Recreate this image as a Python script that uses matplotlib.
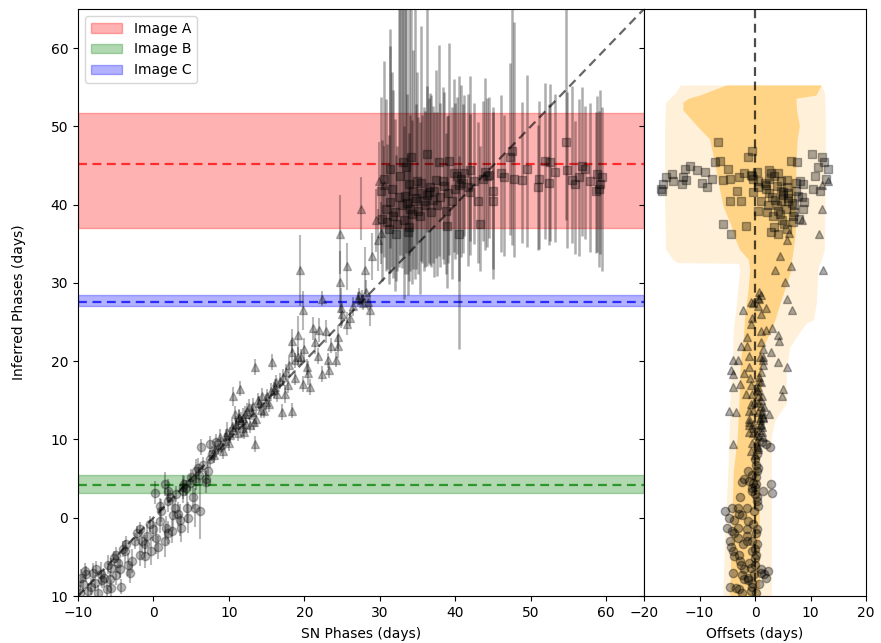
import matplotlib
matplotlib.use("Agg")
import matplotlib.pyplot as plt
from matplotlib.patches import Patch
import numpy as np

# ---------------- data ----------------
circ_sn = [-9.8, -9.6, -9.1, -8.7, -8.3, -7.8, -7.3, -7.0, -6.5, -6.2, -5.6, -5.6, -5.2, -4.9, -4.7,
           -4.3, -4.0, -3.8, -3.4, -3.1, -2.5, -1.8, -1.8, -1.15, -1.15, -0.9, -0.3, 0.2, 0.4, 0.6,
           0.8, 1.05, 1.5, 1.5, 1.7, 1.9, 1.9, 1.9, 2.4, 2.8, 3.3, 3.7, 3.9, 3.9, 4.1, 4.4, 4.6,
           5.25, 5.5, 5.7, 5.7, 5.9, 6.35, 6.2, 7.0, 7.0, 7.5, 7.5, 8.3, 7.2,
           -9.3, -8.9, -8.0, -7.6, -6.8, -6.0, -5.8, -5.0, -4.5, -3.6, -2.8, -2.2, -1.5, -0.5, 0.0,
           0.9, 2.2, 2.6, 3.0, 3.5, 4.3, 4.8, 5.0, 6.0, 6.6, 7.8]
circ_inf = [-9.6, -7.7, -6.8, -9.4, -8.8, -8.3, -9.6, -7.2, -7.7, -9.1, -6.4, -9.0, -5.2, -7.3, -5.8,
            -8.8, -4.0, -4.3, -6.0, -7.1, -3.0, -4.7, -1.5, -4.9, -3.4, -2.3, -4.3, 3.2, -2.6, -3.8,
            -0.4, 0.9, -3.0, 4.3, -1.3, -1.9, 2.2, 3.4, -1.7, 1.3, 0.45, -1.3, 3.9, 3.4, 4.3, 1.3, 0.0,
            2.6, 1.3, 6.0, 4.7, 6.4, 9.0, 0.8, 5.0, 4.6, 9.4, 7.5, 9.65, 6.0,
            -8.5, -7.2, -7.0, -6.5, -8.0, -6.0, -7.8, -4.8, -6.5, -3.3, -5.5, -2.0, -3.0, -0.8, -1.5,
            1.5, 2.6, 0.3, 3.0, -0.3, 3.8, 4.4, 5.2, 5.5, 6.8, 8.2]
circ_err = [1.0, 1.2, 1.0, 1.0, 1.1, 1.0, 1.0, 1.5, 1.2, 1.0, 1.2, 1.0, 1.0, 1.3, 1.2,
            1.0, 1.0, 1.5, 1.5, 1.2, 1.0, 1.5, 1.0, 1.5, 1.2, 1.5, 1.8, 1.5, 2.0, 1.5,
            1.5, 1.5, 2.0, 1.5, 1.5, 1.5, 1.5, 1.5, 1.5, 1.5, 1.5, 1.8, 1.5, 1.5, 1.0, 2.0, 2.0,
            1.5, 2.5, 1.5, 1.2, 1.2, 1.0, 3.5, 1.0, 1.5, 1.0, 1.2, 1.0, 1.2,
            1.0, 1.0, 1.2, 1.0, 1.0, 1.2, 1.0, 1.0, 1.2, 1.0, 1.5, 1.0, 1.5, 1.0, 1.5,
            1.0, 1.0, 2.0, 1.0, 2.0, 1.0, 1.0, 1.0, 1.0, 1.0, 1.0]

tri_sn = [8.0, 8.5, 8.83, 9.2, 9.5, 9.8, 10.0, 10.38, 10.6, 10.8, 11.0, 11.2, 11.5, 11.6, 11.8,
          12.1, 12.3, 12.6, 12.8, 13.0, 13.5, 13.9, 14.2, 14.7, 15.0, 15.3, 15.7, 16.1, 16.4, 16.8,
          17.0, 17.2, 17.4, 17.8, 18.3, 18.3, 18.7, 19.1, 19.4, 19.6, 19.8, 19.8, 20.3, 20.5, 21.1,
          21.8, 22.0, 22.3, 22.3, 23.1, 23.5, 24.5, 24.5, 24.7, 24.7, 24.9, 25.6, 25.6, 26.0, 27.1,
          27.6, 27.8, 28.0, 28.4, 28.7, 28.9, 29.8, 30.2, 29.9, 30.5, 11.3, 12.0, 13.3, 14.0, 16.0,
          8.2, 9.0, 9.6, 10.2, 10.5, 10.9, 11.4, 11.9, 12.4, 13.2, 13.6, 14.4, 14.9, 15.6, 16.2,
          17.6, 18.0, 18.8, 19.2, 20.0, 20.7, 21.4, 22.8, 23.3, 24.2, 25.0, 26.4, 27.3, 28.2, 18.3,
          13.4, 29.5, 27.5]
tri_inf = [8.0, 9.0, 10.3, 8.5, 9.8, 11.0, 9.5, 11.6, 15.5, 13.3, 12.0, 10.8, 16.5, 12.5, 11.5,
           13.3, 12.0, 14.2, 11.8, 13.5, 19.3, 15.0, 13.8, 13.7, 15.5, 14.5, 19.9, 16.7, 15.8, 17.5,
           13.5, 18.0, 15.8, 17.0, 22.6, 21.2, 20.1, 23.3, 31.6, 20.5, 26.5, 17.1, 19.3, 18.5, 24.2,
           20.7, 24.0, 28.0, 18.4, 20.1, 22.0, 23.1, 21.9, 36.2, 30.1, 26.8, 32.1, 24.8, 25.5, 27.9,
           28.1, 27.5, 31.6, 27.6, 26.5, 33.4, 35.5, 36.4, 43.0, 42.5, 12.8, 11.0, 12.2, 14.6, 16.3,
           8.8, 9.3, 10.4, 10.6, 11.2, 11.8, 12.9, 12.8, 13.6, 14.3, 12.6, 15.6, 14.8, 16.2, 17.3,
           18.6, 19.5, 17.9, 20.6, 21.5, 16.7, 22.4, 23.8, 18.9, 20.2, 26.0, 27.0, 28.4, 28.9, 13.7,
           9.4, 38.0, 39.5]
tri_err = [1.0, 1.0, 1.0, 1.0, 1.0, 1.2, 1.0, 1.0, 1.2, 1.0, 1.0, 1.0, 1.0, 1.0, 1.0,
           1.0, 1.0, 1.0, 1.0, 1.0, 1.0, 1.0, 1.0, 1.0, 1.0, 1.0, 1.0, 1.0, 1.0, 1.0,
           1.0, 1.0, 1.2, 1.0, 1.5, 1.5, 1.0, 2.5, 4.5, 1.0, 2.5, 1.0, 1.0, 1.5, 1.5,
           1.0, 1.5, 1.0, 1.0, 1.0, 1.0, 1.5, 1.5, 5.0, 4.0, 2.5, 3.0, 1.5, 1.0, 1.0,
           1.0, 1.0, 3.0, 1.0, 2.0, 3.0, 4.0, 4.0, 5.0, 5.0, 1.0, 1.0, 1.0, 1.0, 1.0,
           1.0, 1.0, 1.0, 1.0, 1.0, 1.0, 1.0, 1.2, 1.0, 1.0, 1.0, 1.0, 1.0, 1.0, 1.0,
           1.0, 1.0, 1.0, 1.2, 1.5, 1.0, 1.5, 1.5, 1.0, 1.0, 1.5, 1.2, 1.0, 1.5, 1.0,
           1.0, 4.0, 4.0]

sq_sn = [30.1, 30.5, 30.8, 31.0, 31.2, 31.4, 31.6, 31.8, 32.0, 32.3, 32.5, 32.9, 33.0, 33.2, 33.3,
         33.5, 33.7, 33.9, 34.1, 34.3, 34.6, 34.9, 35.3, 35.6, 36.0, 36.3, 36.5, 36.8, 37.2, 37.6,
         37.9, 38.3, 38.7, 38.9, 39.2, 39.5, 40.0, 40.2, 40.5, 40.8, 41.2, 41.7, 41.9, 42.5, 43.0,
         43.6, 43.9, 44.5, 45.0, 45.0, 46.4, 47.3, 47.5, 47.8, 48.9, 50.9, 51.1, 52.4, 52.6, 54.6,
         54.8, 55.5, 55.9, 56.4, 57.2, 58.6, 58.8, 59.2, 59.5,
         33.6, 34.0, 34.4, 34.8, 35.0, 35.5, 35.8, 36.2, 36.6, 37.0, 37.4, 38.0, 38.5, 39.0, 39.8,
         41.0, 42.0, 44.2, 46.0, 49.5, 51.9, 53.2, 56.8, 57.8, 59.0, 31.3, 32.7, 30.3, 32.1, 33.8,
         40.5, 43.3]
sq_inf = [41.8, 43.3, 39.5, 37.8, 36.9, 40.3, 42.0, 38.6, 39.0, 37.5, 41.0, 39.9, 45.4, 38.0, 41.1,
          44.8, 36.5, 42.6, 46.1, 38.8, 40.5, 43.0, 38.6, 41.5, 40.0, 46.5, 41.6, 39.0, 41.8, 39.9,
          45.4, 43.0, 39.2, 37.3, 45.6, 40.5, 42.0, 43.7, 42.5, 43.3, 44.0, 42.2, 44.4, 43.0, 40.5,
          43.3, 44.2, 43.8, 41.8, 40.5, 43.5, 46.1, 46.9, 43.3, 43.1, 42.2, 43.3, 42.8, 45.4, 48.0,
          44.4, 43.1, 42.7, 43.5, 44.6, 41.8, 43.9, 42.7, 43.5,
          40.2, 39.5, 41.8, 40.8, 39.2, 42.8, 40.5, 41.2, 42.3, 40.6, 43.2, 41.0, 42.4, 41.5, 44.0,
          42.8, 41.6, 43.6, 44.0, 44.6, 45.6, 44.2, 45.0, 43.0, 42.0, 44.5, 43.6, 38.2, 36.3, 37.2,
          36.2, 37.5]
sq_elo = [8, 10, 8, 6, 7, 9, 10, 8, 10, 6, 9, 8, 12, 10, 10,
          11, 8, 9, 12, 9, 10, 8, 10, 9, 8, 10, 9, 7, 11, 9,
          12, 10, 8, 8, 12, 10, 9, 10, 21, 10, 8, 10, 9, 8, 8,
          8, 10, 8, 10, 10, 10, 10, 12, 10, 8, 8, 9, 8, 10, 10,
          10, 8, 9, 10, 9, 8, 10, 9, 12,
          9, 8, 10, 9, 8, 10, 9, 9, 10, 8, 10, 9, 10, 9, 10,
          9, 8, 9, 10, 10, 10, 9, 9, 9, 10, 10, 10, 8, 6, 7,
          6, 6]
sq_ehi = [12, 15, 14, 10, 12, 20, 15, 16, 12, 10, 24, 30, 20, 12, 25,
          22, 10, 28, 20, 12, 26, 14, 12, 10, 12, 20, 12, 15, 10, 12,
          15, 12, 10, 14, 15, 12, 11, 10, 14, 12, 10, 12, 12, 10, 10,
          10, 12, 10, 10, 12, 8, 12, 22, 20, 10, 8, 10, 10, 10, 18,
          10, 12, 8, 10, 8, 10, 10, 12, 9,
          14, 12, 18, 12, 12, 20, 12, 14, 12, 12, 14, 12, 12, 10, 12,
          10, 10, 10, 10, 12, 10, 10, 10, 10, 10, 18, 22, 10, 10, 12,
          10, 10]

band_names = ["Image A", "Image B", "Image C"]
band_colors = ["red", "green", "blue"]
band_mid = [45.2, 4.2, 27.6]
band_lo = [37.0, 3.2, 27.0]
band_hi = [51.7, 5.4, 28.4]

outer_y = [-10.3, -2.6, 6.0, 10.3, 12.4, 13.7, 14.6, 18.9, 21.8, 23.1, 24.9, 25.3, 27.4, 31.7,
           32.5, 32.6, 33.0, 34.3, 40.0, 50.0, 53.1, 54.4, 55.3]
outer_lo = [-5.8, -5.5, -4.9, -4.7, -4.6, -4.6, -4.56, -4.2, -4.0, -3.96, -3.8, -3.7, -3.36, -2.76,
            -3.0, -14.0, -14.8, -16.1, -16.3, -16.3, -16.1, -14.2, -13.5]
outer_hi = [2.95, 2.95, 2.95, 2.95, 3.55, 4.75, 5.65, 5.65, 6.25, 7.45, 9.25, 10.5, 11.05, 11.35,
            11.6, 11.8, 12.0, 12.5, 12.6, 12.7, 12.6, 12.5, 11.9]

inner_y = [-10.3, -2.6, 6.0, 10.3, 14.6, 18.9, 21.0, 21.8, 23.1, 25.3, 27.4, 29.5, 31.7, 33.0,
           34.3, 36.0, 37.3, 39.9, 42.0, 45.4, 48.4, 50.1, 52.1, 53.1, 53.6, 54.0, 55.3]
inner_lo = [-4.56, -4.3, -3.9, -3.2, -2.9, -2.7, -2.5, -2.3, -2.1, -1.9, -1.56, -1.2, -0.96, -1.2,
            -2.8, -3.8, -4.3, -5.8, -6.4, -7.3, -8.2, -10.5, -13.0, -13.0, -12.0, -10.0, -5.2]
inner_hi = [0.8, 0.8, 0.7, 0.8, 1.1, 1.14, 1.2, 1.44, 2.3, 3.6, 4.5, 5.5, 6.5, 6.6,
            6.9, 7.2, 7.3, 7.3, 7.3, 7.4, 7.6, 8.0, 7.5, 7.4, 7.4, 11.0, 11.9]

left_yticks = [-10, 0, 10, 20, 30, 40, 50, 60]
left_ytick_labels = ["10", "0", "10", "20", "30", "40", "50", "60"]
left_xticks = [-10, 0, 10, 20, 30, 40, 50, 60]
right_xticks = [-20, -10, 0, 10, 20]

# ---------------- figure ----------------
plt.rcParams['font.family'] = ['DejaVu Sans']
plt.rcParams['font.size'] = 10
fig = plt.figure(figsize=(8.81, 6.43), dpi=100)
W, H = 881, 643
axL = fig.add_axes([78 / W, (H - 596) / H, (644 - 78) / W, (596 - 9) / H])
axR = fig.add_axes([644 / W, (H - 596) / H, (866 - 644) / W, (596 - 9) / H], sharey=axL)

# bands
handles = []
for name, c, m, lo, hi in zip(band_names, band_colors, band_mid, band_lo, band_hi):
    axL.axhspan(lo, hi, facecolor=c, edgecolor=c, alpha=0.3, lw=1)
    axL.axhline(m, color=c, ls='--', lw=1.6, alpha=0.75, dashes=(4, 2.5))
    handles.append(Patch(facecolor=c, edgecolor=c, alpha=0.3, label=name))

# diagonal
axL.axline((0, 0), slope=1, color='k', ls='--', lw=1.6, alpha=0.6, dashes=(4, 2.5), zorder=5)

# points
ekw = dict(color='k', alpha=0.28, ms=6, elinewidth=1.5, capsize=0, zorder=3)
axL.errorbar(circ_sn, circ_inf, yerr=circ_err, fmt='o', **ekw)
axL.errorbar(tri_sn, tri_inf, yerr=tri_err, fmt='^', **ekw)
axL.errorbar(sq_sn, sq_inf, yerr=[sq_elo, sq_ehi], fmt='s', color='k', alpha=0.32, ms=6,
             elinewidth=1.8, capsize=0, zorder=3)

axL.set_xlim(-10, 65)
axL.set_ylim(-10, 65)
axL.set_xticks(left_xticks)
axL.set_yticks(left_yticks)
axL.set_yticklabels(left_ytick_labels)
axL.set_xlabel("SN Phases (days)", labelpad=5)
axL.set_ylabel("Inferred Phases (days)", labelpad=18)
leg = axL.legend(handles=handles, loc='upper left', fontsize=10, frameon=True, handlelength=2.3)

# right panel
axR.fill_betweenx(outer_y, outer_lo, outer_hi, color='orange', alpha=0.15, lw=0)
axR.fill_betweenx(inner_y, inner_lo, inner_hi, color='orange', alpha=0.38, lw=0)
axR.axvline(0, color='k', ls='--', lw=1.6, alpha=0.7, dashes=(4, 2.5), zorder=5)

off_c = np.array(circ_inf) - np.array(circ_sn)
off_t = np.array(tri_inf) - np.array(tri_sn)
off_s = np.array(sq_inf) - np.array(sq_sn)
mkw = dict(color='k', alpha=0.33, ms=6, ls='none', zorder=3)
axR.plot(off_c, circ_inf, marker='o', **mkw)
axR.plot(off_t, tri_inf, marker='^', **mkw)
axR.plot(off_s, sq_inf, marker='s', **mkw)

axR.set_xlim(-20, 20)
axR.set_xticks(right_xticks)
axR.tick_params(axis='y', labelleft=False)
axR.set_xlabel("Offsets (days)", labelpad=5)

fig.savefig("out.png", dpi=100)
